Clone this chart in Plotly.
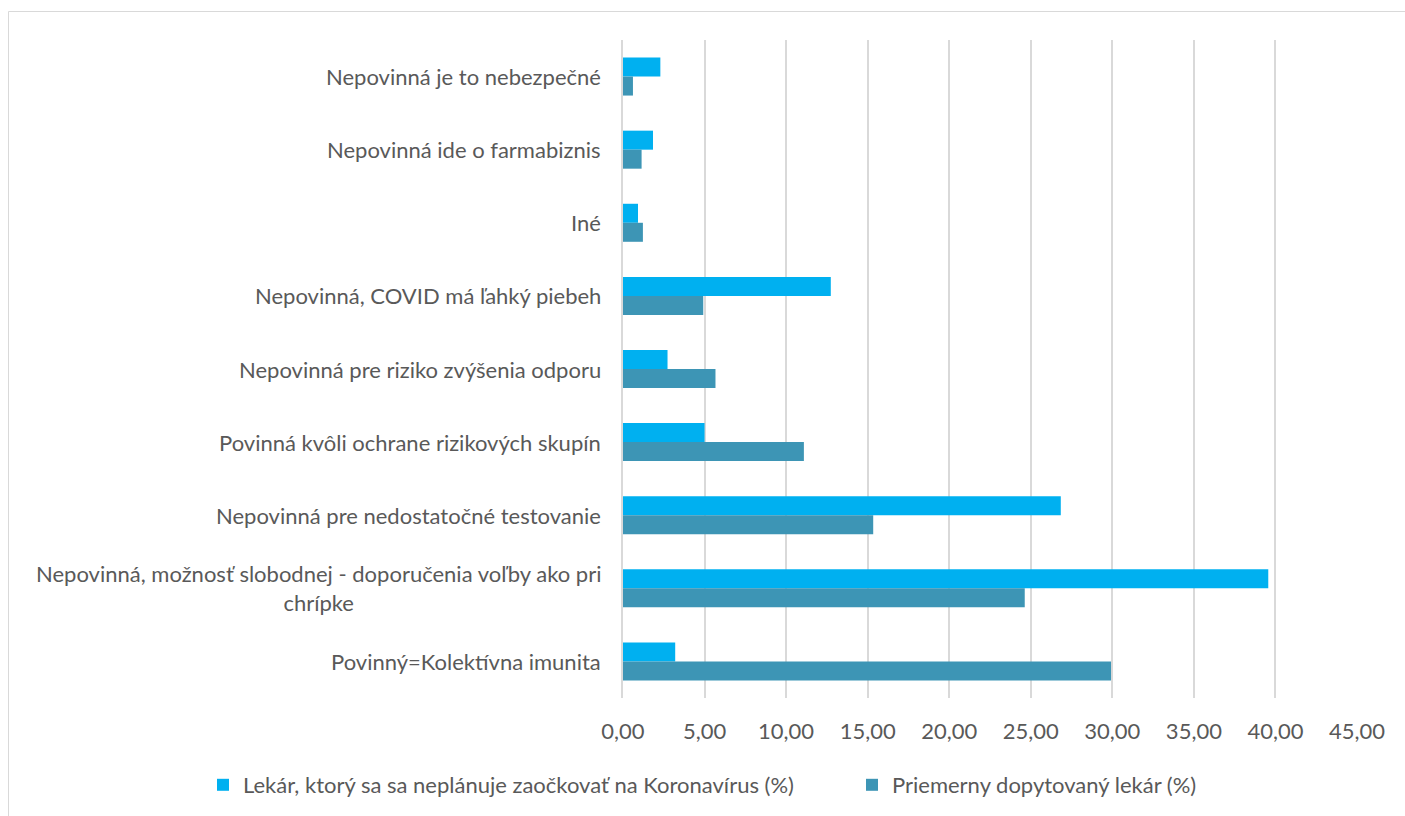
import plotly.graph_objects as go

# Categories listed top to bottom
categories = [
    "Nepovinná je to nebezpečné",
    "Nepovinná ide o farmabiznis",
    "Iné",
    "Nepovinná, COVID má ľahký piebeh",
    "Nepovinná pre riziko zvýšenia odporu",
    "Povinná kvôli ochrane rizikových skupín",
    "Nepovinná pre nedostatočné testovanie",
    "Nepovinná, možnosť slobodnej - doporučenia voľby ako pri<br>chrípke",
    "Povinný=Kolektívna imunita",
]

series_names = [
    "Lekár, ktorý sa sa neplánuje zaočkovať na Koronavírus (%)",
    "Priemerny dopytovaný lekár (%)",
]

not_vaccinating = [2.29, 1.84, 0.92, 12.74, 2.73, 5.00, 26.84, 39.56, 3.20]
average_doctor = [0.61, 1.14, 1.22, 4.92, 5.67, 11.09, 15.34, 24.63, 29.92]

x_ticks = [0, 5, 10, 15, 20, 25, 30, 35, 40, 45]

colors = ["#00B0F0", "#3D95B5"]
text_color = "#595959"
grid_color = "#D9D9D9"
font_family = "Lato, 'Open Sans', sans-serif"
font_size = 22

W, H = 1405, 816
L, R, T, B = 623, 48, 40, 118
plot_w = W - L - R
plot_h = H - T - B

fig = go.Figure()
for name, vals, col in zip(series_names, [not_vaccinating, average_doctor], colors):
    fig.add_trace(go.Bar(
        y=list(range(len(categories))),
        x=vals,
        name=name,
        orientation="h",
        marker=dict(color=col, line=dict(width=0)),
        hoverinfo="x+name",
    ))

# Category labels, right aligned box with centred lines
for i, cat in enumerate(categories):
    fig.add_annotation(
        x=0, xref="paper", y=i, yref="y",
        text=cat, showarrow=False,
        xanchor="right", yanchor="middle", align="center",
        xshift=-20,
        font=dict(family=font_family, size=font_size, color=text_color),
    )

# Outer chart border
def px_to_paper_x(px):
    return (px - L) / plot_w

def px_to_paper_y(py):
    return (H - B - py) / plot_h

fig.add_shape(
    type="rect", xref="paper", yref="paper",
    x0=px_to_paper_x(8.5), x1=px_to_paper_x(1420),
    y0=px_to_paper_y(830), y1=px_to_paper_y(11.5),
    line=dict(color=grid_color, width=1), fillcolor="rgba(0,0,0,0)",
    layer="below",
)

fig.update_layout(
    width=W, height=H,
    margin=dict(l=L, r=R, t=T, b=B, autoexpand=False),
    paper_bgcolor="white", plot_bgcolor="white",
    barmode="group", bargap=0.48, bargroupgap=0,
    separators=", ",
    font=dict(family=font_family, size=font_size, color=text_color),
    showlegend=True,
    legend=dict(
        orientation="h",
        x=px_to_paper_x(203), xanchor="left",
        y=px_to_paper_y(785), yanchor="middle",
        entrywidth=604, entrywidthmode="pixels",
        font=dict(family=font_family, size=font_size, color=text_color),
        bgcolor="rgba(0,0,0,0)",
    ),
    xaxis=dict(
        range=[0, 45],
        tickvals=x_ticks,
        tickformat=".2f",
        showgrid=True, gridcolor=grid_color, gridwidth=1.5,
        zeroline=False,
        showline=False,
        ticks="", ticklabelstandoff=18,
        tickfont=dict(family=font_family, size=font_size, color=text_color),
        fixedrange=True,
    ),
    yaxis=dict(
        range=[len(categories) - 0.5, -0.5],
        showticklabels=False,
        showgrid=False, zeroline=False,
        showline=True, linecolor=grid_color, linewidth=1.5,
        ticks="",
        fixedrange=True,
    ),
)

fig.write_html("out.html")
